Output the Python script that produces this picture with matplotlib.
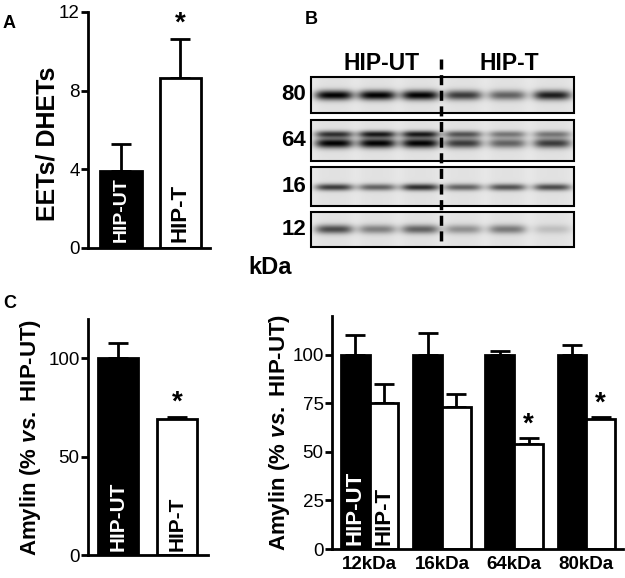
import numpy as np
import matplotlib
matplotlib.use("Agg")
import matplotlib.pyplot as plt
from matplotlib.patches import Rectangle

plt.rcParams["font.family"] = ["Liberation Sans", "DejaVu Sans"]
plt.rcParams["mathtext.fontset"] = "custom"
plt.rcParams["mathtext.rm"] = "Liberation Sans:bold"
plt.rcParams["mathtext.it"] = "Liberation Sans:italic:bold"
plt.rcParams["mathtext.bf"] = "Liberation Sans:bold"

# ---- data ----
groups = ["HIP-UT", "HIP-T"]
eets_mean = [3.92, 8.64]
eets_err = [1.37, 1.99]

amylin_mean = [100, 69.4]
amylin_err = [8, 0.8]

kda_labels = ["12kDa", "16kDa", "64kDa", "80kDa"]
ut_mean = [100, 100, 100, 100]
ut_err = [10, 11, 2, 5]
t_mean = [75, 73, 54, 67]
t_err = [10, 7, 3, 0.8]
t_sig = [False, False, True, True]

# western blot: relative band darkness per lane (3x HIP-UT, 3x HIP-T)
blot_rows = ["80", "64", "16", "12"]
band80 = [0.97, 0.97, 0.97, 0.72, 0.55, 0.85]
band64 = [0.97, 0.97, 0.97, 0.72, 0.55, 0.72]
band64_up = [0.75, 0.85, 0.85, 0.6, 0.45, 0.45]
band16 = [0.72, 0.55, 0.78, 0.55, 0.62, 0.65]
band12 = [0.65, 0.42, 0.55, 0.35, 0.45, 0.15]

W, H = 625, 578
fig = plt.figure(figsize=(W / 100, H / 100), dpi=100)


def fax(x0, y0, x1, y1):
    # axes from pixel box (top-left origin)
    return fig.add_axes([x0 / W, 1 - y1 / H, (x1 - x0) / W, (y1 - y0) / H])


def style(ax, yticks, ylim):
    for s in ["top", "right"]:
        ax.spines[s].set_visible(False)
    for s in ["left", "bottom"]:
        ax.spines[s].set_linewidth(2)
    ax.set_ylim(*ylim)
    ax.set_yticks(yticks)
    ax.tick_params(axis="y", direction="out", length=5, width=2, labelsize=13.5, pad=1)
    ax.tick_params(axis="x", length=0)


ebkw = dict(fmt="none", ecolor="black", elinewidth=2, capsize=7.5, capthick=2, zorder=1)
vs_label = "Amylin (% $\\mathit{vs.}$ HIP-UT)"

# ---- panel A ----
axA = fax(88, 12, 210, 248)
x = np.arange(2)
axA.bar(x, eets_mean, width=0.69, color=["black", "white"], edgecolor="black", lw=2, zorder=2)
axA.errorbar(x, eets_mean, yerr=[[0, 0], eets_err], **ebkw)
style(axA, [0, 4, 8, 12], (0, 12))
axA.set_xlim(-0.555, 1.496)
axA.set_xticks([])
axA.set_ylabel("EETs/ DHETs", fontsize=18, fontweight="bold")
axA.yaxis.set_label_coords(-0.23, 0.44)
axA.text(0, 0.3, groups[0], color="white", rotation=90, ha="center", va="bottom", fontsize=14, fontweight="bold")
axA.text(1, 0.3, groups[1], color="black", rotation=90, ha="center", va="bottom", fontsize=16, fontweight="bold")
axA.text(1, eets_mean[1] + eets_err[1] + 0.1, "*", ha="center", va="bottom", fontsize=20, fontweight="bold")
fig.text(3 / W, 1 - 23 / H, "A", fontsize=13, fontweight="bold", va="center")

# ---- panel B (blot) ----
axB = fax(240, 0, 625, 290)
lane_x = [334, 377, 420, 463, 507, 552]
row_box = [(77, 113), (120, 161), (167, 206), (212, 247)]
bx0, bx1 = 311, 574


def blot_strip(y0, y1, bands):
    xs = np.arange(bx0, bx1, 0.5)
    ys = np.arange(y0, y1, 0.5)
    X, Y = np.meshgrid(xs, ys)
    dark = np.zeros_like(X)
    for amp, yc, sy in bands:
        for cx, a in zip(lane_x, amp):
            fx = np.exp(-((X - cx) / 19) ** 4)
            fy = np.exp(-((Y - yc) / sy) ** 2)
            dark += a * fx * fy
    smear = sum(0.03 * np.exp(-((X - cx) / 18) ** 4) for cx in lane_x)
    return 0.91 - 0.91 * np.clip(dark + smear, 0, 1)


strips = [
    [(band80, 95, 4.8)],
    [(band64, 143, 4.8), (band64_up, 134, 3.4)],
    [(band16, 187, 3.4)],
    [(band12, 229, 4.5)],
]
for (y0, y1), bands, name in zip(row_box, strips, blot_rows):
    img = blot_strip(y0, y1, bands)
    axB.imshow(img, cmap="gray", vmin=0, vmax=1, extent=(bx0, bx1, y1, y0),
               interpolation="bilinear", aspect="auto", zorder=1)
    axB.add_patch(Rectangle((bx0, y0), bx1 - bx0, y1 - y0, fill=False, ec="black", lw=1.5, zorder=3))
    axB.text(306, (y0 + y1) / 2, name, ha="right", va="center", fontsize=16, fontweight="bold")
axB.set_xlim(240, 625)
axB.set_ylim(290, 0)
axB.axis("off")
axB.plot([441, 441], [59, 247], color="black", lw=2.5, dashes=(2.9, 1.6), zorder=4)
axB.text(382, 64, "HIP-UT", ha="center", va="center", fontsize=16.5, fontweight="bold")
axB.text(509, 64, "HIP-T", ha="center", va="center", fontsize=16.5, fontweight="bold")
axB.text(270, 268, "kDa", ha="center", va="center", fontsize=17, fontweight="bold")
fig.text(305 / W, 1 - 20 / H, "B", fontsize=13, fontweight="bold", va="center")

# ---- panel C left ----
axC = fax(88, 319, 208, 555)
axC.bar(x, amylin_mean, width=0.68, color=["black", "white"], edgecolor="black", lw=2, zorder=2)
axC.errorbar(x, amylin_mean, yerr=[[0, 0], amylin_err], **ebkw)
style(axC, [0, 50, 100], (0, 120))
axC.set_xlim(-0.508, 1.525)
axC.set_xticks([])
axC.set_ylabel(vs_label, fontsize=16, fontweight="bold")
axC.yaxis.set_label_coords(-0.375, 0.5)
axC.text(0, 2, groups[0], color="white", rotation=90, ha="center", va="bottom", fontsize=15, fontweight="bold")
axC.text(1, 2, groups[1], color="black", rotation=90, ha="center", va="bottom", fontsize=15, fontweight="bold")
axC.text(1, amylin_mean[1] + amylin_err[1] + 0.5, "*", ha="center", va="bottom", fontsize=20, fontweight="bold")
fig.text(3 / W, 1 - 303 / H, "C", fontsize=13, fontweight="bold", va="center")

# ---- panel C right ----
axD = fax(332, 316, 623, 549)
g = np.arange(len(kda_labels))
bw = 0.398
axD.bar(g - bw / 2, ut_mean, width=bw, color="black", edgecolor="black", lw=2, zorder=2)
axD.bar(g + bw / 2, t_mean, width=bw, color="white", edgecolor="black", lw=2, zorder=2)
axD.errorbar(g - bw / 2, ut_mean, yerr=[np.zeros(4), ut_err], **ebkw)
axD.errorbar(g + bw / 2, t_mean, yerr=[np.zeros(4), t_err], **ebkw)
style(axD, [0, 25, 50, 75, 100], (0, 120))
axD.set_xlim(-0.523, 3.508)
axD.set_xticks(g)
axD.set_xticklabels(kda_labels, fontsize=13.5, fontweight="bold")
axD.tick_params(axis="x", pad=5)
axD.set_ylabel(vs_label, fontsize=16, fontweight="bold")
axD.yaxis.set_label_coords(-0.137, 0.5)
for i, s in enumerate(t_sig):
    if s:
        axD.text(g[i] + bw / 2, t_mean[i] + t_err[i] + 0.5, "*", ha="center", va="bottom", fontsize=20, fontweight="bold")
axD.text(-bw / 2, 2, groups[0], color="white", rotation=90, ha="center", va="bottom", fontsize=16, fontweight="bold")
axD.text(bw / 2, 2, groups[1], color="black", rotation=90, ha="center", va="bottom", fontsize=16, fontweight="bold")

fig.savefig("out.png", dpi=100)
